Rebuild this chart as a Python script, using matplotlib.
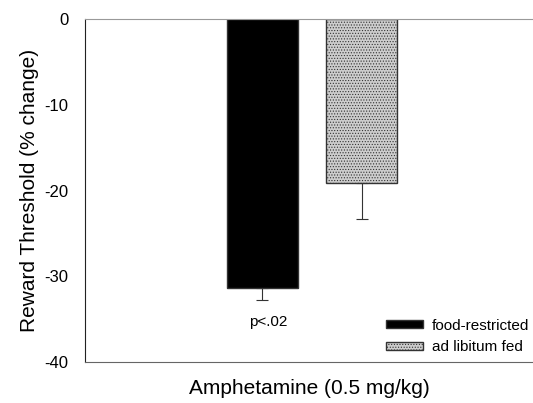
import matplotlib
matplotlib.use('Agg')
import matplotlib.pyplot as plt

# ----------- Dados -----------
grupos = ['food-restricted', 'ad libitum fed']
limiar = [-31.4, -19.1]
erro = [1.4, 4.2]
cores = ['black', '#cdcdcd']
posicoes = [0.396, 0.618]

plt.rcParams['font.family'] = ['Liberation Sans', 'DejaVu Sans']
plt.rcParams['axes.unicode_minus'] = False
plt.rcParams['hatch.color'] = '#a0a0a0'
plt.rcParams['hatch.linewidth'] = 0.5

fig = plt.figure(figsize=(5.33, 4.03), dpi=100)
ax = fig.add_axes([85 / 533, 1 - 362 / 403, 1 - 85 / 533, 343 / 403])

for x, v, e, c, g in zip(posicoes, limiar, erro, cores, grupos):
    ax.bar(x, v, width=0.159, color=c, edgecolor='#333333', linewidth=1, label=g,
           hatch='......' if c != 'black' else None)
    ax.errorbar(x, v, yerr=[[e], [0]], color='#333333', capsize=4, elinewidth=0.8,
                capthick=0.8, fmt='none')

ax.text(posicoes[0] + 0.012, -34.5, 'p<.02', ha='center', va='top', fontsize=11)

ax.set_xlim(0, 1)
ax.set_ylim(-40, 0)
ax.set_yticks([0, -10, -20, -30, -40])
ax.tick_params(axis='y', length=0, labelsize=12, pad=12)
ax.set_xticks([])
ax.spines['right'].set_visible(False)
ax.spines['top'].set_color('#999999')
ax.spines['bottom'].set_color('#666666')
ax.spines['left'].set_color('#222222')

ax.set_ylabel('Reward Threshold (% change)', fontsize=15, labelpad=4)
ax.set_xlabel('Amphetamine (0.5 mg/kg)', fontsize=15, labelpad=12)

ax.legend(loc='lower left', bbox_to_anchor=(0.672, 0.022), frameon=False, fontsize=11,
          borderpad=0, borderaxespad=0, handlelength=2.4, handleheight=0.4,
          handletextpad=0.6, labelspacing=0.5)

fig.savefig('out.png', dpi=100)
